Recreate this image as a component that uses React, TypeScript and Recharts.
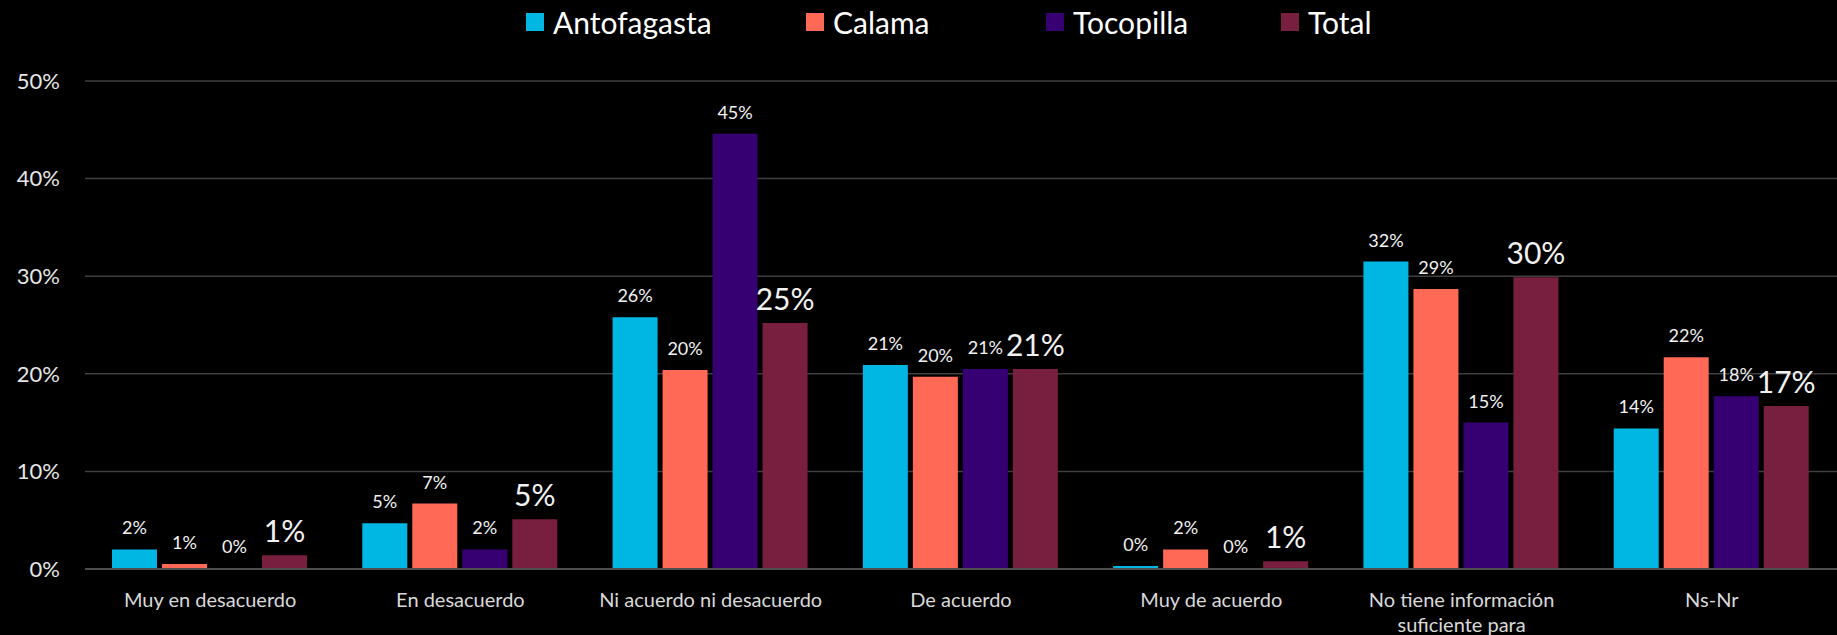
import React from 'react';
import { BarChart, Bar, XAxis, YAxis, CartesianGrid, LabelList } from 'recharts';

const categories = [
  'Muy en desacuerdo',
  'En desacuerdo',
  'Ni acuerdo ni desacuerdo',
  'De acuerdo',
  'Muy de acuerdo',
  'No tiene información suficiente para',
  'Ns-Nr',
];

const antofagasta = [2.0, 4.7, 25.8, 20.9, 0.3, 31.5, 14.4];
const calama = [0.5, 6.7, 20.4, 19.7, 2.0, 28.7, 21.7];
const tocopilla = [0.1, 2.0, 44.6, 20.5, 0.1, 15.0, 17.7];
const total = [1.4, 5.1, 25.2, 20.5, 0.8, 29.9, 16.7];

const yTicks = [0, 10, 20, 30, 40, 50];

const SERIES = [
  { key: 'antofagasta', name: 'Antofagasta', color: '#00B7E4', big: false },
  { key: 'calama', name: 'Calama', color: '#FF6955', big: false },
  { key: 'tocopilla', name: 'Tocopilla', color: '#360073', big: false },
  { key: 'total', name: 'Total', color: '#781E3E', big: true },
];

const data = categories.map((name, i) => ({
  name,
  antofagasta: antofagasta[i],
  calama: calama[i],
  tocopilla: tocopilla[i],
  total: total[i],
}));

const FONT = 'Lato, "Open Sans", sans-serif';
const LEGEND_LEFT = [526, 806, 1046, 1281];

// wrap long category names roughly the way the original does
function wrap(label: string, maxChars = 26) {
  const lines: string[] = [];
  let cur = '';
  label.split(' ').forEach((w) => {
    const next = cur ? cur + ' ' + w : w;
    if (next.length > maxChars && cur) {
      lines.push(cur);
      cur = w;
    } else {
      cur = next;
    }
  });
  if (cur) lines.push(cur);
  return lines;
}

function CategoryTick(props: any) {
  const { x, y, payload } = props;
  const lines = wrap(String(payload.value));
  return (
    <text x={x} y={y + 30} textAnchor="middle" fill="#d9d9d9" fontSize={20} fontFamily={FONT}>
      {lines.map((l, i) => (
        <tspan key={i} x={x} dy={i === 0 ? 0 : 25}>
          {l}
        </tspan>
      ))}
    </text>
  );
}

export default function App() {
  return (
    <div
      style={{
        position: 'fixed',
        left: 0,
        top: 0,
        width: 1837,
        height: 635,
        background: '#000',
        fontFamily: FONT,
      }}
    >
      {/* legend */}
      {SERIES.map((s, i) => (
        <div
          key={s.key}
          style={{
            position: 'absolute',
            left: LEGEND_LEFT[i],
            top: 2,
            display: 'flex',
            alignItems: 'center',
            color: '#fff',
            fontSize: 30,
            lineHeight: '40px',
            whiteSpace: 'nowrap',
          }}
        >
          <span style={{ width: 18, height: 18, background: s.color, marginRight: 9, display: 'inline-block' }} />
          <span>{s.name}</span>
        </div>
      ))}

      <BarChart
        width={1837}
        height={635}
        data={data}
        margin={{ top: 81, right: 0, bottom: 0, left: 0 }}
        barCategoryGap={27}
        barGap={5}
      >
        <CartesianGrid vertical={false} stroke="#3f3f3f" strokeWidth={1.5} />
        <XAxis
          dataKey="name"
          height={66}
          interval={0}
          tickLine={false}
          axisLine={{ stroke: '#4d4d4d', strokeWidth: 2 }}
          tick={<CategoryTick />}
        />
        <YAxis
          width={85}
          domain={[0, 50]}
          ticks={yTicks}
          tickFormatter={(v: number) => `${v}%`}
          axisLine={false}
          tickLine={false}
          tickSize={0}
          tickMargin={25}
          tick={{ fill: '#e6e6e6', fontSize: 22, fontFamily: FONT }}
        />
        {SERIES.map((s) => (
          <Bar key={s.key} dataKey={s.key} name={s.name} fill={s.color} isAnimationActive={false}>
            <LabelList
              dataKey={s.key}
              position="top"
              offset={s.big ? 13 : 15}
              formatter={(v: number) => `${Math.round(v)}%`}
              fill="#f2f2f2"
              fontSize={s.big ? 30 : 18}
              fontFamily={FONT}
            />
          </Bar>
        ))}
      </BarChart>
    </div>
  );
}
